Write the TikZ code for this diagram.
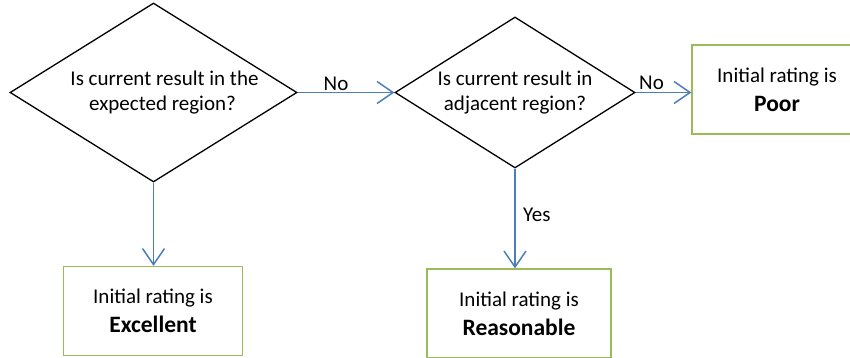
\documentclass[tikz,border=0pt]{standalone}
\usepackage{fontspec}
\setmainfont{Carlito}
\usetikzlibrary{shapes.geometric,arrows.meta}

\definecolor{flowblue}{HTML}{4A7EBB}
\definecolor{boxgreen}{HTML}{9BBB59}

\newcommand{\ratingword}[1]{{\fontsize{23.5}{28}\selectfont\bfseries #1}}

\tikzset{
decision/.style={diamond, draw=black, line width=1.3pt, inner sep=0pt, aspect=1.6, align=center,
  font=\fontsize{21}{25}\selectfont},
rating/.style={rectangle, draw=boxgreen, line width=1.3pt, inner sep=0pt, align=center,
  minimum height=89pt, font=\fontsize{21}{25}\selectfont},
flow/.style={draw=flowblue, line width=1.5pt, -{Straight Barb[length=16pt,width=22pt,line width=1.5pt]}},
answer/.style={font=\fontsize{21}{25}\selectfont, inner sep=0pt},
}

\begin{document}
\begin{tikzpicture}[x=1pt,y=-1pt]
\clip (0,0) rectangle (850,358);
\fill[white] (0,0) rectangle (850,358);

\node[decision, minimum width=287pt, minimum height=179pt] (expected) at (153.5,92.5)
{\hspace*{22pt}Is current result in the\\\hspace*{18pt}expected region?};
\node[decision, minimum width=240pt, minimum height=151pt] (adjacent) at (515,92.5)
{Is current result in\\adjacent region?};

\node[rating, minimum width=170pt] (poor) at (777,89.5)
{Initial rating is\\[4pt]\ratingword{Poor}};
\node[rating, minimum width=179pt] (excellent) at (153,311)
{Initial rating is\\[4pt]\ratingword{Excellent}};
\node[rating, minimum width=184pt] (reasonable) at (519,313.5)
{Initial rating is\\[4pt]\ratingword{Reasonable}};

\draw[flow] (expected.east) -- (adjacent.west);
\draw[flow] (adjacent.east) -- (adjacent.east -| poor.west);
\draw[flow] (expected.south) -- (expected.south |- excellent.north);
\draw[flow] (adjacent.south) -- (adjacent.south |- reasonable.north);

\node[answer, anchor=base] (no1) at (336,91) {No};
\node[answer, anchor=base] (no2) at (651.5,90) {No};
\node[answer, anchor=base west] (yes) at (523,221.5) {Yes};
\end{tikzpicture}
\end{document}
